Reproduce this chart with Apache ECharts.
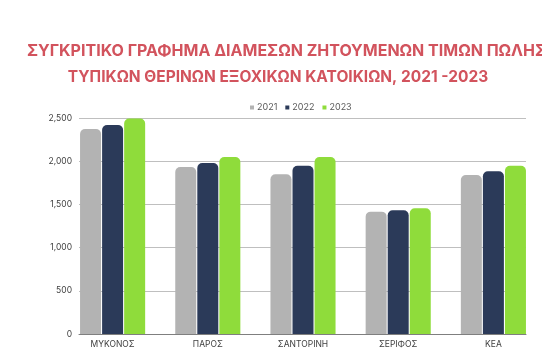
<!DOCTYPE html>
<html><head><meta charset="utf-8">
<script src="https://cdn.jsdelivr.net/npm/echarts@6/dist/echarts.min.js"></script>
<style>html,body{margin:0;padding:0;background:#fff}#c{width:542px;height:359px}</style>
</head><body><div id="c"></div>
<script>
const categories = ['ΜΥΚΟΝΟΣ', 'ΠΑΡΟΣ', 'ΣΑΝΤΟΡΙΝΗ', 'ΣΕΡΙΦΟΣ', 'ΚΕΑ'];
const seriesNames = ['2021', '2022', '2023'];
const values2021 = [2373, 1933, 1848, 1416, 1840];
const values2022 = [2419, 1979, 1948, 1431, 1883];
const values2023 = [2495, 2049, 2049, 1454, 1948];
const yTicks = [0, 500, 1000, 1500, 2000, 2500];
const colors = ['#b3b3b3', '#2b3a59', '#8fdc3b'];

const chart = echarts.init(document.getElementById('c'));
const font = 'Inter, "Noto Sans", sans-serif';
const data = [values2021, values2022, values2023];
chart.setOption({
  animation: false,
  title: [{
    text: 'ΣΥΓΚΡΙΤΙΚΟ ΓΡΑΦΗΜΑ ΔΙΑΜΕΣΩΝ ΖΗΤΟΥΜΕΝΩΝ ΤΙΜΩΝ ΠΩΛΗΣΗΣ',
    left: 22, top: 38,
    textStyle: {color: '#d2535d', fontSize: 16, fontWeight: 'bold', fontFamily: font}
  }, {
    text: 'ΤΥΠΙΚΩΝ ΘΕΡΙΝΩΝ ΕΞΟΧΙΚΩΝ ΚΑΤΟΙΚΙΩΝ, 2021 -2023',
    left: 273, textAlign: 'center', top: 64,
    textStyle: {color: '#d2535d', fontSize: 15.5, fontWeight: 'bold', fontFamily: font}
  }],
  legend: {
    data: seriesNames, top: 98, left: 245,
    itemWidth: 4, itemHeight: 4, itemGap: 8, icon: 'rect',
    textStyle: {color: '#595959', fontSize: 9, fontFamily: font, padding: [0, 0, 0, -2]}
  },
  grid: [
    {left: 79, right: 16, top: 118, bottom: 25},
    {left: 65, right: 1, top: 118, bottom: 25}
  ],
  xAxis: [
    {type: 'category', gridIndex: 0, data: categories, axisLabel: {show: false}, axisTick: {show: false},
     axisLine: {lineStyle: {color: '#7f7f7f', width: 1}}},
    {type: 'category', gridIndex: 1, data: categories, axisTick: {show: false},
     axisLine: {show: false},
     axisLabel: {color: '#404040', fontSize: 8.5, fontFamily: font, margin: 6}}
  ],
  yAxis: [
    {type: 'value', gridIndex: 0, min: 0, max: 2500, interval: 500,
     axisLabel: {color: '#404040', fontSize: 8.5, fontFamily: font, margin: 7,
       formatter: v => yTicks.includes(v) ? v.toLocaleString('en-US') : ''},
     splitLine: {lineStyle: {color: '#bfbfbf', width: 1}}},
    {type: 'value', gridIndex: 1, min: 0, max: 2500, interval: 500, show: false, splitLine: {show: false}}
  ],
  series: seriesNames.map((n, i) => ({
    name: n, type: 'bar', xAxisIndex: 1, yAxisIndex: 1, data: data[i],
    barWidth: 21, barGap: '5%',
    itemStyle: {color: colors[i], borderRadius: [5, 5, 0, 0]}
  }))
});
</script></body></html>
